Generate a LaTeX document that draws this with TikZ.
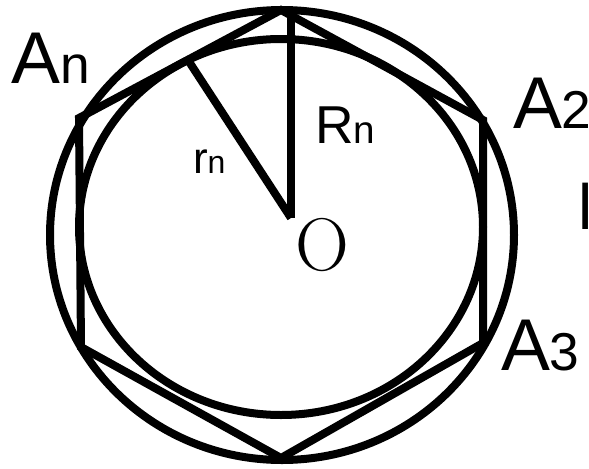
\documentclass[tikz,border=0pt]{standalone}
\usepackage{fontspec}
\setsansfont{Liberation Sans}
\newfontfamily\romanO{Latin Modern Roman}
\newcommand{\sz}[1]{\fontsize{#1}{#1}\selectfont}

\tikzset{every picture/.style={line width=6pt}}
\tikzset{lbl/.style={anchor=base west,inner sep=0pt,font=\sffamily}}

\begin{document}
\begin{tikzpicture}[x=0.75pt,y=0.75pt,yscale=-1,xscale=1]
\useasboundingbox (0,0) rectangle (589,468);

% Points
\coordinate (O) at (291,218);
\coordinate (A1) at (281,10);
\coordinate (A2) at (483,120);
\coordinate (A3) at (483,343);
\coordinate (A4) at (281,458);
\coordinate (A5) at (81,347);
\coordinate (An) at (79,118);
\coordinate (T) at (186,57);

%Circles
\draw (282,235) ellipse [x radius=232, y radius=225];
\draw (281,227) ellipse [x radius=202, y radius=188];

%Hexagon
\draw [line join=miter] (A1) -- (A2) -- (A3) -- (A4) -- (A5) -- (An) -- cycle;

%Straight Lines
\draw (O) -- (A1 -| O);
\draw (O) -- (T);

% Text Node
\node [lbl] (lAn) at (8,83) {\sz{55}A\sz{40}n};
% Text Node
\node [lbl] (lA2) at (509,128) {\sz{55}A\sz{40}2};
% Text Node
\node [lbl] (lA3) at (497,370) {\sz{55}A\sz{40}3};
% Text Node
\node [lbl] (lRn) at (311,143) {\sz{40}R\sz{29}n};
% Text Node
\node [lbl] (lrn) at (189,173) {\sz{33}r\sz{24}n};
% Text Node
\node [lbl,font=\romanO] (lO) at (291,270) {\sz{56}O};
% Text Node
\node [lbl] (ll) at (574,229) {\sz{48}l};

\end{tikzpicture}
\end{document}
